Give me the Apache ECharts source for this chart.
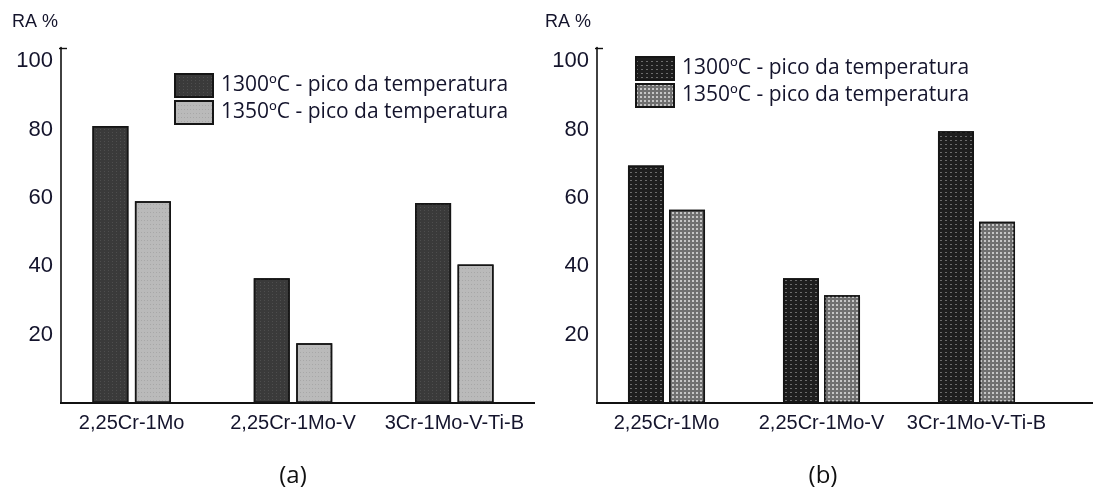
<!DOCTYPE html>
<html>
<head>
<meta charset="utf-8">
<script src="https://cdn.jsdelivr.net/npm/echarts@6/dist/echarts.min.js"></script>
<style>
  html, body { margin: 0; padding: 0; background: #fff; width: 1093px; height: 494px; overflow: hidden; }
  #chartA { position: absolute; left: 0; top: 0; width: 540px; height: 494px; }
  #chartB { position: absolute; left: 540px; top: 0; width: 553px; height: 494px; }
</style>
</head>
<body>
<div id="chartA"></div>
<div id="chartB"></div>
<script>
// Steel grades on the category axis
const categories = ['2,25Cr-1Mo', '2,25Cr-1Mo-V', '3Cr-1Mo-V-Ti-B'];
// Peak temperature series
const seriesNames = ['1300ºC - pico da temperatura', '1350ºC - pico da temperatura'];
// Reduction of area (RA %), panel (a)
const ra1300A = [81, 36.5, 58.5];
const ra1350A = [59, 17.5, 40.5];
// Reduction of area (RA %), panel (b)
const ra1300B = [69.5, 36.5, 79.5];
const ra1350B = [56.5, 31.5, 53];
// Y axis ticks
const yTickStep = 20;
const yAxisTop = 104;
const axisTitle = 'RA %';
const panelLabels = ['(a)', '(b)'];

const INK = '#14142c';
const AXIS = '#111';

function buildPanel(el, p) {
  const chart = echarts.init(el, null, { renderer: 'canvas' });
  const axisX = p.gridLeft - p.yOffset;

  const barStyle = (fill, decal) => ({
    color: fill,
    borderColor: '#151515',
    borderWidth: 1.5,
    decal: decal
  });

  chart.setOption({
    animation: false,
    grid: { left: p.gridLeft, width: p.gridWidth, top: 47.5, height: 355.5 },
    legend: {
      orient: 'vertical',
      left: p.legendLeft,
      top: p.legendTop,
      padding: 0,
      itemWidth: 38,
      itemHeight: 23,
      itemGap: 2,
      icon: 'rect',
      selectedMode: false,
      textStyle: { fontFamily: 'Open Sans', fontSize: 21, color: INK, lineHeight: 23, padding: [0, 0, 0, 3] }
    },
    xAxis: {
      type: 'category',
      data: categories,
      axisLine: { show: false },
      axisTick: { show: false },
      axisLabel: { interval: 0, margin: 10, fontFamily: 'Liberation Sans', fontSize: 20, lineHeight: 20, color: INK }
    },
    yAxis: {
      type: 'value',
      min: 0,
      max: yAxisTop,
      interval: yTickStep,
      offset: p.yOffset,
      splitLine: { show: false },
      axisTick: { show: false },
      axisLine: { show: true, lineStyle: { color: AXIS, width: 1.6 } },
      axisLabel: {
        margin: 8,
        fontFamily: 'Liberation Sans',
        fontSize: 22,
        color: INK,
        formatter: v => (v > 0 && v % yTickStep === 0) ? String(v) : ''
      }
    },
    series: [
      {
        name: seriesNames[0],
        type: 'bar',
        data: p.dark,
        barWidth: 36,
        barGap: p.barGap,
        itemStyle: barStyle(p.darkFill, p.darkDecal)
      },
      {
        name: seriesNames[1],
        type: 'bar',
        data: p.light,
        barWidth: 36,
        barGap: p.barGap,
        itemStyle: barStyle(p.lightFill, p.lightDecal)
      }
    ]
  });

  // Baseline and axis cap, placed from the axis scale
  const y0 = chart.convertToPixel({ yAxisIndex: 0 }, 0);
  const yTop = chart.convertToPixel({ yAxisIndex: 0 }, yAxisTop);
  chart.setOption({
    graphic: [
      { type: 'line', silent: true, shape: { x1: axisX - 1, y1: y0, x2: p.baseEnd, y2: y0 }, style: { stroke: AXIS, lineWidth: 2 } },
      { type: 'line', silent: true, shape: { x1: axisX - 2, y1: yTop + 1, x2: axisX + 6, y2: yTop + 1 }, style: { stroke: AXIS, lineWidth: 1.4 } },
      { type: 'text', silent: true, x: p.titleX, y: 22, style: { text: axisTitle, fontFamily: 'Liberation Sans', fontSize: 18, fill: INK, align: 'left', verticalAlign: 'middle' } },
      { type: 'text', silent: true, x: p.captionX, y: 476, style: { text: p.caption, fontFamily: 'Open Sans', fontSize: 24, fill: '#111', align: 'center', verticalAlign: 'middle' } }
    ]
  });
  return chart;
}

buildPanel(document.getElementById('chartA'), {
  gridLeft: 51, gridWidth: 484, yOffset: -10, baseEnd: 535, barGap: '18%',
  legendLeft: 174, legendTop: 73,
  titleX: 12, captionX: 293, caption: panelLabels[0],
  dark: ra1300A, light: ra1350A,
  darkFill: '#3a3a3a', lightFill: '#bababa',
  darkDecal: { symbol: 'rect', symbolSize: 1, dashArrayX: [1, 3], dashArrayY: [1, 2], color: 'rgba(255,255,255,0.10)' },
  lightDecal: { symbol: 'rect', symbolSize: 1, dashArrayX: [1, 2], dashArrayY: [1, 3], color: 'rgba(0,0,0,0.10)' }
});

buildPanel(document.getElementById('chartB'), {
  gridLeft: 49, gridWidth: 465, yOffset: -8, baseEnd: 553, barGap: '14%',
  legendLeft: 95, legendTop: 56,
  titleX: 5, captionX: 283, caption: panelLabels[1],
  dark: ra1300B, light: ra1350B,
  darkFill: '#1e1e1e', lightFill: '#6f6f6f',
  darkDecal: { symbol: 'rect', symbolSize: 1, dashArrayX: [2, 3], dashArrayY: [1, 3], color: 'rgba(255,255,255,0.35)' },
  lightDecal: { symbol: 'rect', symbolSize: 1, dashArrayX: [2, 2], dashArrayY: [2, 2], color: 'rgba(255,255,255,0.6)' }
});
</script>
</body>
</html>
